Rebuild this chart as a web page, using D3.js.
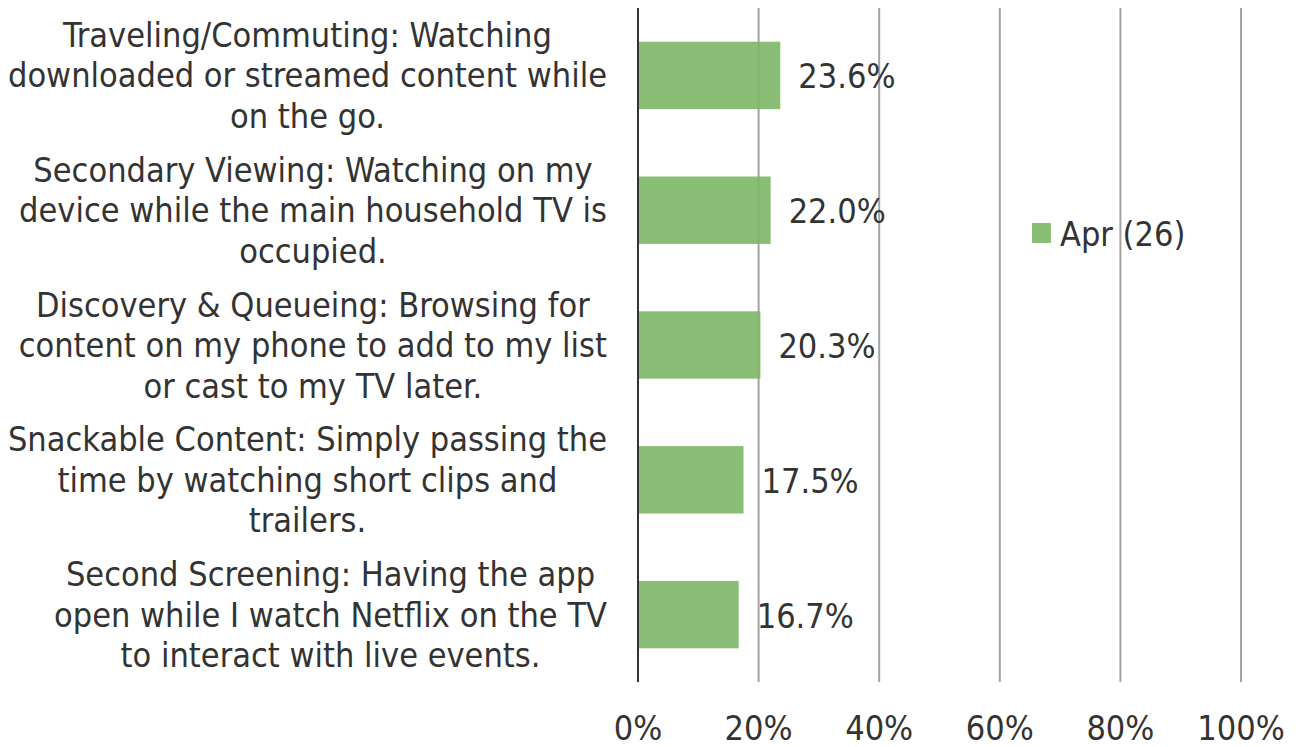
<!DOCTYPE html>
<html><head><meta charset="utf-8">
<script src="https://cdn.jsdelivr.net/npm/d3@7"></script>
<style>
body{margin:0;background:#fff;}
text{font-family:"DejaVu Sans Condensed","DejaVu Sans",sans-serif;font-stretch:condensed;fill:#333;}
</style></head>
<body><svg id="c" width="1300" height="747"></svg>
<script>
const categories = [
  ["Traveling/Commuting: Watching","downloaded or streamed content while","on the go."],
  ["Secondary Viewing: Watching on my","device while the main household TV is","occupied."],
  ["Discovery & Queueing: Browsing for","content on my phone to add to my list","or cast to my TV later."],
  ["Snackable Content: Simply passing the","time by watching short clips and","trailers."],
  ["Second Screening: Having the app","open while I watch Netflix on the TV","to interact with live events."]
];
const values = [23.6, 22.0, 20.3, 17.5, 16.7];
const seriesName = "Apr (26)";
const ticks = [0, 20, 40, 60, 80, 100];

(function(){
const svg = d3.select("#c");
const pL = 638, pR = 1241, pT = 8, pB = 682;
const fs = 34;
const x = d3.scaleLinear().domain([0,100]).range([pL,pR]);
const y = d3.scaleBand().domain(d3.range(values.length)).range([pT,pB]).paddingInner(0.5).paddingOuter(0.25);

svg.append("g").selectAll("line").data(ticks.slice(1)).join("line")
  .attr("x1",d=>x(d)).attr("x2",d=>x(d)).attr("y1",pT).attr("y2",pB)
  .attr("stroke","#a3a3a3").attr("stroke-width",2);

svg.append("g").selectAll("rect").data(values).join("rect")
  .attr("x",x(0)).attr("y",(d,i)=>y(i)).attr("width",d=>x(d)-x(0)).attr("height",y.bandwidth())
  .attr("fill","#7db667").attr("fill-opacity",0.9);

svg.append("line").attr("x1",pL).attr("x2",pL).attr("y1",pT).attr("y2",pB)
  .attr("stroke","#333").attr("stroke-width",2);

svg.append("g").selectAll("text").data(values).join("text")
  .attr("x",d=>x(d)+18).attr("y",(d,i)=>y(i)+y.bandwidth()/2+1)
  .attr("dominant-baseline","central").attr("font-size",fs)
  .text(d=>d.toFixed(1)+"%");

svg.append("g").selectAll("text").data(ticks).join("text")
  .attr("x",d=>x(d)).attr("y",728).attr("text-anchor","middle")
  .attr("dominant-baseline","central").attr("font-size",fs)
  .text(d=>d+"%");

const lh = 40.5;
categories.forEach((lines,i)=>{
  const g = svg.append("g");
  const cy = y(i)+y.bandwidth()/2;
  const ts = lines.map((t,j)=>g.append("text").attr("font-size",fs)
    .attr("dominant-baseline","central").attr("text-anchor","middle")
    .attr("y",cy+(j-(lines.length-1)/2)*lh).text(t));
  const w = d3.max(ts,t=>t.node().getComputedTextLength());
  ts.forEach(t=>t.attr("x",607-w/2));
});

svg.append("rect").attr("x",1032).attr("y",223).attr("width",19).attr("height",20).attr("fill","#8abd76");
svg.append("text").attr("x",1060).attr("y",234).attr("dominant-baseline","central")
  .attr("font-size",fs).text(seriesName);
})();
</script></body></html>
